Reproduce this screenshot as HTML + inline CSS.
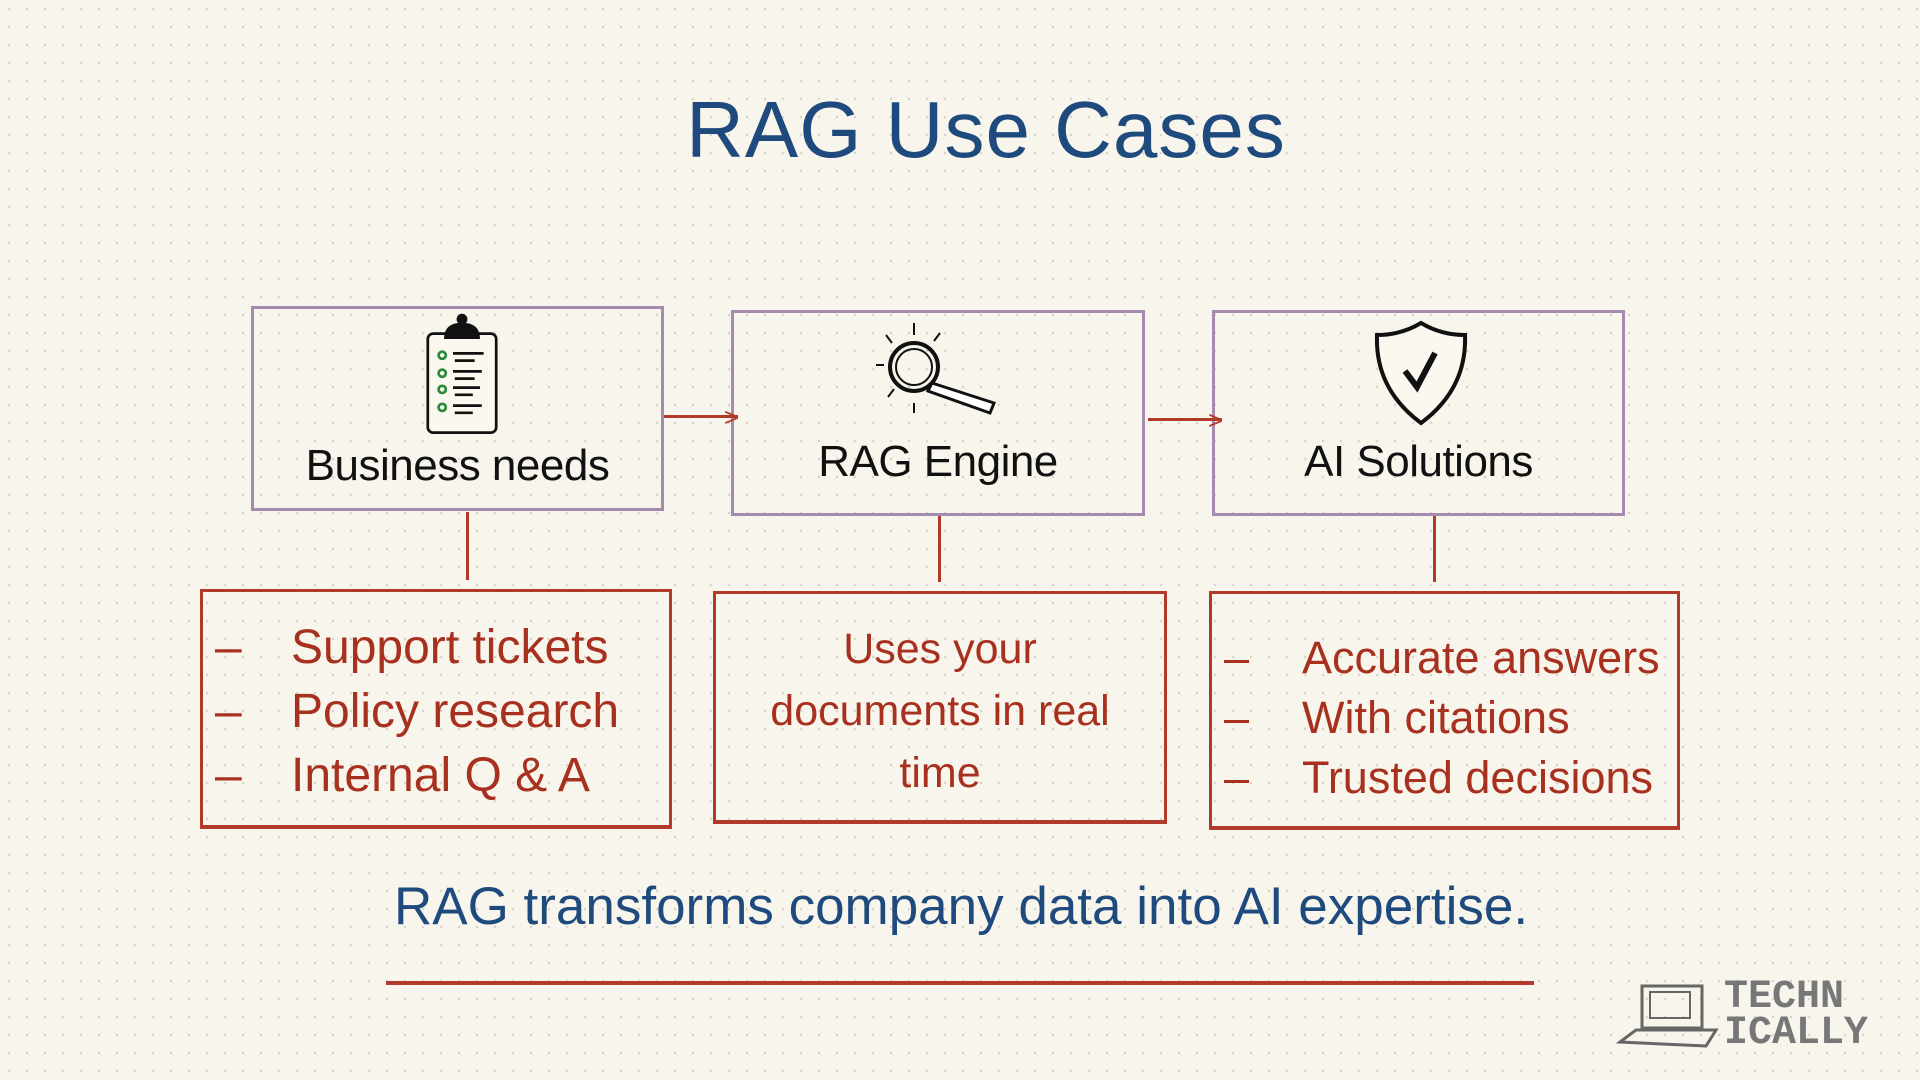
<!DOCTYPE html>
<html><head><meta charset="utf-8"><style>
html,body{margin:0;padding:0}
body{width:1920px;height:1080px;position:relative;overflow:hidden;background:#f8f5ec;
background-image:radial-gradient(circle,#d9d5cb 1.2px,transparent 1.4px);background-size:18px 18px;
font-family:"Liberation Sans",sans-serif}
.a{position:absolute}
.box{position:absolute;border:3px solid #a68ab0;box-sizing:border-box}
.rbox{position:absolute;border:3px solid #b23a2a;border-bottom-width:4px;box-sizing:border-box}
.lbl{position:absolute;left:0;right:0;text-align:center;font-size:44px;color:#111;letter-spacing:-0.5px}
.red{color:#a8301f;font-size:40px}
.line{position:absolute;background:#b23a2a}
</style></head><body>
<div class="a" style="left:0;width:1972px;top:84px;text-align:center;font-size:80px;color:#1e4a7e;letter-spacing:1px">RAG Use Cases</div>

<div class="box" style="left:251px;top:306px;width:413px;height:205px">
<svg class="a" style="left:163px;top:2px" width="90" height="128" viewBox="0 0 100 136">
<rect x="12" y="22" width="76" height="110" rx="6" fill="#fbf8f0" stroke="#111" stroke-width="3"/>
<path d="M30 28 Q30 10 50 10 Q70 10 70 28 Z" fill="#111"/><circle cx="50" cy="6" r="6" fill="#111"/>
<g stroke="#2a8a3a" stroke-width="3" fill="none"><circle cx="28" cy="46" r="4"/><circle cx="28" cy="66" r="4"/><circle cx="28" cy="84" r="4"/><circle cx="28" cy="104" r="4"/></g>
<g stroke="#111" stroke-width="3"><line x1="40" y1="44" x2="74" y2="44"/><line x1="42" y1="52" x2="64" y2="52"/><line x1="40" y1="64" x2="72" y2="64"/><line x1="42" y1="72" x2="64" y2="72"/><line x1="40" y1="82" x2="70" y2="82"/><line x1="42" y1="90" x2="62" y2="90"/><line x1="40" y1="102" x2="72" y2="102"/><line x1="42" y1="110" x2="62" y2="110"/></g>
</svg>
<div class="lbl" style="top:132px">Business needs</div></div>

<div class="box" style="left:731px;top:310px;width:414px;height:206px">
<svg class="a" style="left:140px;top:8px" width="140" height="100" viewBox="0 0 140 100">
<circle cx="40" cy="46" r="24" fill="none" stroke="#111" stroke-width="4"/><circle cx="40" cy="46" r="18" fill="none" stroke="#111" stroke-width="2"/>
<path d="M58 62 L120 82 L116 92 L54 70 Z" fill="#fff" stroke="#111" stroke-width="3"/>
<g stroke="#111" stroke-width="2"><line x1="40" y1="2" x2="40" y2="14"/><line x1="12" y1="14" x2="18" y2="22"/><line x1="66" y1="12" x2="60" y2="20"/><line x1="2" y1="44" x2="10" y2="44"/><line x1="14" y1="76" x2="20" y2="68"/><line x1="40" y1="82" x2="40" y2="92"/></g>
</svg>
<div class="lbl" style="top:124px">RAG Engine</div></div>

<div class="box" style="left:1212px;top:310px;width:413px;height:206px">
<svg class="a" style="left:156px;top:6px" width="100" height="110" viewBox="0 0 100 110">
<path d="M50 4 Q30 16 6 16 Q4 70 50 104 Q96 70 94 16 Q70 16 50 4 Z" fill="#fbf8f0" stroke="#111" stroke-width="4"/>
<path d="M34 52 L46 68 L64 34" fill="none" stroke="#111" stroke-width="6"/>
</svg>
<div class="lbl" style="top:124px">AI Solutions</div></div>

<div class="line" style="left:664px;top:415px;width:74px;height:3px"></div>
<div class="a" style="left:724px;top:402px;color:#b23a2a;font-size:26px">&gt;</div>
<div class="line" style="left:1148px;top:418px;width:74px;height:3px"></div>
<div class="a" style="left:1208px;top:405px;color:#b23a2a;font-size:26px">&gt;</div>

<div class="line" style="left:466px;top:512px;width:3px;height:68px"></div>
<div class="line" style="left:938px;top:516px;width:3px;height:66px"></div>
<div class="line" style="left:1433px;top:516px;width:3px;height:66px"></div>

<div class="rbox" style="left:200px;top:589px;width:472px;height:240px">
<div class="a red" style="left:12px;top:24px;line-height:64px;font-size:48px">–<br>–<br>–</div>
<div class="a red" style="left:88px;top:24px;line-height:64px;white-space:nowrap;font-size:48px">Support tickets<br>Policy research<br>Internal Q &amp; A</div></div>

<div class="rbox" style="left:713px;top:591px;width:454px;height:233px">
<div class="a red" style="left:0;right:0;top:24px;text-align:center;line-height:62px;font-size:43px">Uses your<br>documents in real<br>time</div></div>

<div class="rbox" style="left:1209px;top:591px;width:471px;height:239px">
<div class="a red" style="left:12px;top:34px;line-height:60px;font-size:45px">–<br>–<br>–</div>
<div class="a red" style="left:90px;top:34px;line-height:60px;white-space:nowrap;font-size:45px">Accurate answers<br>With citations<br>Trusted decisions</div></div>

<div class="a" style="left:376px;top:876px;width:1170px;text-align:center;font-size:53px;color:#1e4a7e;white-space:nowrap">RAG transforms company data into AI expertise.</div>
<div class="line" style="left:386px;top:981px;width:1148px;height:4px"></div>

<svg class="a" style="left:1616px;top:980px" width="110" height="74" viewBox="0 0 110 74">
<rect x="26" y="6" width="60" height="42" fill="none" stroke="#666" stroke-width="3"/><rect x="34" y="12" width="40" height="26" fill="none" stroke="#666" stroke-width="2"/>
<path d="M4 62 L20 50 L100 50 L90 66 Z" fill="none" stroke="#666" stroke-width="3"/></svg>
<div class="a" style="left:1724px;top:980px;font-family:'Liberation Mono',monospace;font-weight:bold;font-size:40px;line-height:36px;color:#777">TECHN<br>ICALLY</div>
</body></html>
